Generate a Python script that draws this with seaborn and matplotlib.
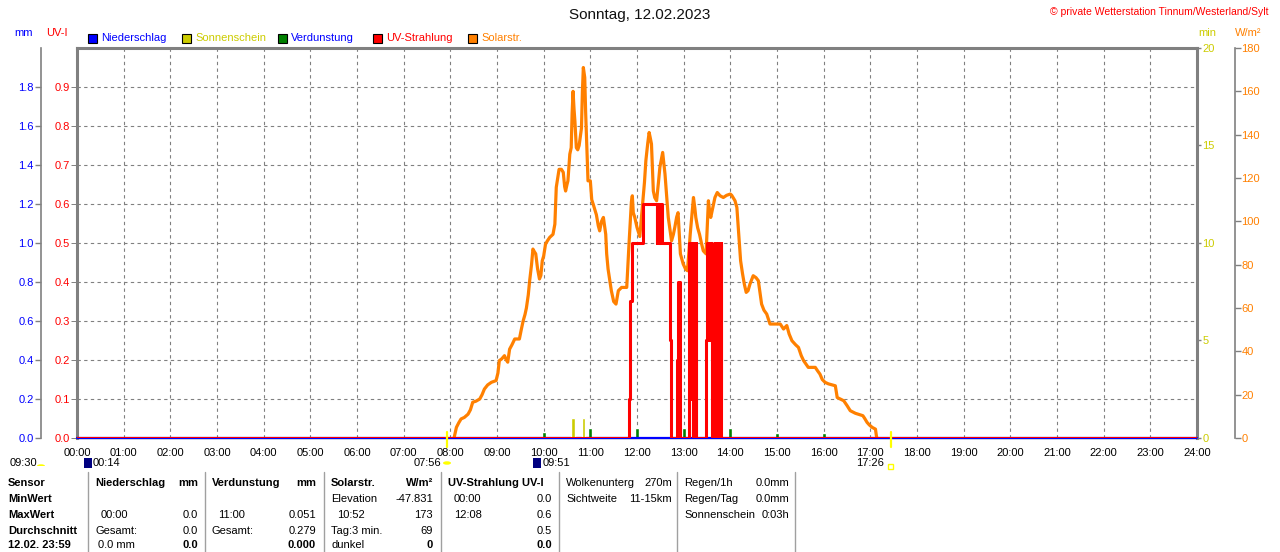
import numpy as np
import pandas as pd
import matplotlib
matplotlib.use('Agg')
import matplotlib.pyplot as plt
import seaborn as sns
from matplotlib.patches import Rectangle, Circle, Wedge
from matplotlib.lines import Line2D

# ---- data ----
hours = list(range(25))
hour_labels = ['%02d:00' % h for h in hours]

# Solarstrahlung W/m2
sol_t = [8.08, 8.10, 8.13, 8.18, 8.23, 8.30, 8.38, 8.43, 8.48, 8.55, 8.63, 8.68, 8.73, 8.80, 8.88, 8.98,
         9.02, 9.05, 9.10, 9.16, 9.20, 9.23, 9.27, 9.32, 9.38, 9.48, 9.52, 9.56, 9.60, 9.63, 9.67, 9.70,
         9.74, 9.77, 9.80, 9.83, 9.87, 9.91, 9.94, 9.97, 10.00, 10.04, 10.08, 10.13, 10.20, 10.24, 10.27,
         10.30, 10.33, 10.38, 10.42, 10.45, 10.47, 10.50, 10.52, 10.56, 10.59, 10.61, 10.63, 10.65, 10.67,
         10.70, 10.73, 10.76, 10.81, 10.83, 10.85, 10.87, 10.88, 10.90, 10.92, 10.95, 11.00, 11.03, 11.06,
         11.13, 11.17, 11.20, 11.24, 11.28, 11.33, 11.35, 11.38, 11.45, 11.50, 11.55, 11.60, 11.67, 11.78,
         11.83, 11.88, 11.90, 11.92, 11.95, 12.00, 12.06, 12.12, 12.16, 12.19, 12.23, 12.26, 12.28, 12.31,
         12.35, 12.38, 12.42, 12.46, 12.49, 12.55, 12.60, 12.64, 12.67, 12.74, 12.78, 12.81, 12.85, 12.88,
         12.93, 12.99, 13.04, 13.08, 13.11, 13.14, 13.18, 13.21, 13.24, 13.26, 13.30, 13.34, 13.38, 13.42,
         13.48, 13.51, 13.53, 13.56, 13.58, 13.62, 13.67, 13.72, 13.78, 13.85, 13.92, 14.00, 14.03, 14.10,
         14.14, 14.17, 14.22, 14.26, 14.30, 14.34, 14.38, 14.42, 14.49, 14.55, 14.60, 14.67, 14.72, 14.78,
         14.85, 15.00, 15.07, 15.14, 15.21, 15.26, 15.32, 15.40, 15.46, 15.52, 15.57, 15.67, 15.82, 15.87,
         15.92, 15.97, 16.03, 16.10, 16.25, 16.29, 16.43, 16.50, 16.57, 16.68, 16.84, 16.88, 16.93, 16.98,
         17.04, 17.11, 17.13, 17.14]
sol_w = [0, 2, 4.9, 7, 8.8, 9.5, 11, 13, 16.5, 17, 18, 20, 22.6, 24.5, 25.7, 26.5,
         30, 35.7, 36.5, 38, 36, 35, 41, 43, 45.7, 45.7, 50, 54, 57, 60, 66, 72.6,
         80, 87.2, 86, 85, 78, 73.4, 75, 81.8, 84, 89.5, 91, 92.6, 94, 98.7, 115.7,
         120, 124, 124, 122.6, 116, 114, 117, 118.7, 131, 134, 150, 160, 152, 146,
         134, 133, 135, 143, 160, 171, 168, 166.4, 150, 137, 118.7, 118.7, 110, 108,
         103, 98, 95.6, 100, 101.8, 94, 85, 78, 68, 63, 61.8, 68, 69.5, 69.5,
         90, 109, 111.8, 104, 102, 97.2, 93, 108, 118, 128, 136, 141, 139, 135.7,
         114, 111, 109.5, 118, 124.9, 131.8, 121.8, 110, 101.8, 91, 94, 97.2, 102, 104,
         85, 80.3, 78, 77.2, 85, 94, 104, 111, 106, 101.8, 97, 94, 90, 86.4,
         85, 100, 109.5, 104, 101.8, 106, 111, 113.3, 111.8, 111, 112, 112.6, 112, 109.5,
         106.4, 97.2, 81.8, 76, 71, 67.2, 68, 71, 74.9, 74, 72.6, 61.8, 59, 57.2,
         52.6, 52.6, 52.6, 50.3, 51.9, 48, 44.9, 43, 41.8, 38, 35.7, 32.6, 32.6, 31,
         29.5, 27, 25.7, 25, 24.1, 18.7, 17.2, 15, 12.6, 11.4, 10.3, 9, 7.2, 6,
         4.9, 4.1, 1, 0]

# UV-Index (stepped)
uv_t = [0, 11.83, 11.86, 11.89, 12.12, 12.42, 12.43, 12.44, 12.46, 12.47, 12.49, 12.50, 12.52, 12.53,
        12.70, 12.73, 12.86, 12.87, 12.92, 12.93,
        13.12, 13.13, 13.14, 13.15, 13.16, 13.17, 13.18, 13.19, 13.20, 13.21, 13.22, 13.23, 13.24, 13.25,
        13.26, 13.27, 13.28,
        13.48, 13.51, 13.52, 13.53, 13.545, 13.555, 13.57, 13.58, 13.60, 13.63, 13.65,
        13.67, 13.68, 13.69, 13.70, 13.71, 13.72, 13.73, 13.74, 13.75, 13.76, 13.77, 13.78, 13.79, 13.80, 24]
uv_v = [0, 0.1, 0.35, 0.5, 0.6, 0.5, 0.6, 0.5, 0.6, 0.5, 0.6, 0.5, 0.6, 0.5,
        0.25, 0.0, 0.2, 0.4, 0.2, 0.0,
        0.5, 0.1, 0.5, 0.1, 0.5, 0.1, 0.5, 0.0, 0.5, 0.1, 0.5, 0.0, 0.5, 0.0,
        0.5, 0.0, 0.0,
        0.25, 0.5, 0.25, 0.5, 0.3, 0.5, 0.25, 0.5, 0.0, 0.3, 0.0,
        0.5, 0.1, 0.5, 0.1, 0.5, 0.0, 0.5, 0.1, 0.5, 0.1, 0.5, 0.1, 0.5, 0.0, 0.0]

# Sonnenschein min
sun_t = [10.63, 10.85]
sun_min = [1.05, 1.05]

# Verdunstung mm (hourly)
evap_t = [10, 11, 12, 13, 14, 15, 16]
evap_mm = [0.029, 0.051, 0.050, 0.050, 0.050, 0.024, 0.026]

# Niederschlag mm
rain_t = [0, 24]
rain_mm = [0, 0]

sunrise_t, sunset_t = 7.933, 17.433

GRAY = '#808080'
YEL = '#CCCC00'
ORA = '#FF8000'

sns.set_theme(style='white')
plt.rcParams['font.family'] = ['Liberation Sans', 'DejaVu Sans']
plt.rcParams['font.size'] = 8

W, H = 1280, 552
fig = plt.figure(figsize=(12.8, 5.52), dpi=100)
fig.patch.set_facecolor('white')


def fx(x):
    return x / W


def fy(y):
    return 1 - y / H


ax = fig.add_axes([fx(77), fy(438), 1120 / W, 390 / H])
ax.set_facecolor('white')
ax.set_xlim(0, 24)
ax.set_ylim(0, 1)
ax.set_xticks(hours)
ax.set_xticklabels(hour_labels)
ax.set_yticks(np.arange(0, 1.0, 0.1))
ax.set_yticklabels(['%.1f' % v for v in np.arange(0, 1.0, 0.1)])
ax.tick_params(axis='x', length=0, pad=7, labelsize=8, labelcolor='black')
ax.tick_params(axis='y', left=True, right=False, length=4, width=0.7, color=GRAY,
               labelcolor='red', pad=1, labelsize=8)
ax.grid(True, linestyle=(0, (3, 3)), color=GRAY, linewidth=0.8)
for s in ['top', 'left', 'right']:
    ax.spines[s].set_color(GRAY)
    ax.spines[s].set_linewidth(2.2)
ax.spines['bottom'].set_color(GRAY)
ax.spines['bottom'].set_linewidth(1)

# mm axis (far left)
ax_mm = ax.twinx()
ax_mm.set_ylim(0, 2.0)
for s in ['top', 'bottom', 'right']:
    ax_mm.spines[s].set_visible(False)
ax_mm.spines['left'].set_visible(True)
ax_mm.spines['left'].set_position(('outward', 26))
ax_mm.spines['left'].set_color(GRAY)
ax_mm.spines['left'].set_linewidth(1.2)
ax_mm.yaxis.set_ticks_position('left')
ax_mm.set_yticks(np.arange(0, 1.9, 0.2))
ax_mm.set_yticklabels(['%.1f' % v for v in np.arange(0, 1.9, 0.2)])
ax_mm.tick_params(axis='y', length=4, width=1, color=GRAY, labelcolor='blue', pad=1, labelsize=8)
ax_mm.bar(evap_t, evap_mm, width=0.08, color='#008000', zorder=3)
sns.lineplot(x=rain_t, y=rain_mm, ax=ax_mm, color='blue', linewidth=1.6, clip_on=False, zorder=4)

# min axis (sunshine)
ax_min = ax.twinx()
ax_min.set_ylim(0, 20)
for s in ax_min.spines.values():
    s.set_visible(False)
ax_min.set_yticks([0, 5, 10, 15, 20])
ax_min.tick_params(axis='y', length=3, width=1, color=GRAY, labelcolor=YEL, pad=1, labelsize=8)
ax_min.bar(sun_t, sun_min, width=0.07, color=YEL, zorder=3)

# W/m2 axis
ax_w = ax.twinx()
ax_w.set_ylim(0, 180)
for s in ['top', 'bottom', 'left']:
    ax_w.spines[s].set_visible(False)
ax_w.spines['right'].set_position(('outward', 27))
ax_w.spines['right'].set_color(GRAY)
ax_w.spines['right'].set_linewidth(1.2)
ax_w.set_yticks(np.arange(0, 181, 20))
ax_w.tick_params(axis='y', length=4, width=1, color=GRAY, labelcolor=ORA, pad=1, labelsize=8)
sns.lineplot(x=sol_t, y=sol_w, ax=ax_w, color=ORA, linewidth=2.3, estimator=None, sort=False)

# UV layer on top
ax_uv = ax.twinx()
ax_uv.set_ylim(0, 1)
ax_uv.set_yticks([])
for s in ax_uv.spines.values():
    s.set_visible(False)
sns.lineplot(x=uv_t, y=uv_v, ax=ax_uv, color='red', linewidth=2.2, drawstyle='steps-post',
             estimator=None, sort=False)
for t in [sunrise_t, sunset_t]:
    ax_uv.plot([t, t], [-0.024, 0.016], color='#FFFF00', linewidth=1.6, clip_on=False, zorder=6)
ax_uv.set_xlim(0, 24)

# ---- header texts ----
fig.text(0.5, fy(15), 'Sonntag, 12.02.2023', ha='center', va='center', fontsize=11, color='#111111')
fig.text(fx(1268), fy(12), '\u00a9 private Wetterstation Tinnum/Westerland/Sylt', ha='right', va='center',
         fontsize=7.5, color='red')
fig.text(fx(14), fy(33), 'mm', ha='left', va='center', color='blue', fontsize=8)
fig.text(fx(46), fy(33), 'UV-I', ha='left', va='center', color='red', fontsize=8)
fig.text(fx(1198), fy(33), 'min', ha='left', va='center', color=YEL, fontsize=8)
fig.text(fx(1235), fy(33), 'W/m\u00b2', ha='left', va='center', color=ORA, fontsize=8)

leg_x = [88, 182, 278, 373, 468]
leg_names = ['Niederschlag', 'Sonnenschein', 'Verdunstung', 'UV-Strahlung', 'Solarstr.']
leg_box = ['#0000FF', YEL, '#008000', '#FF0000', ORA]
leg_txt = ['#0000FF', YEL, '#0000FF', '#FF0000', ORA]
for x, n, bc, tc in zip(leg_x, leg_names, leg_box, leg_txt):
    fig.add_artist(Rectangle((fx(x), fy(43)), 9 / W, 9 / H, facecolor=bc, edgecolor='black',
                             linewidth=0.8, transform=fig.transFigure))
    fig.text(fx(x + 13), fy(38), n, ha='left', va='center', color=tc, fontsize=8)

# ---- sun / moon times ----
ty = 463
fig.text(fx(10), fy(ty), '09:30', ha='left', va='center', fontsize=8, color='black')
fig.add_artist(Wedge((fx(41), fy(466)), 4 / W, 0, 180, facecolor='#FFFF00', edgecolor='none',
                     transform=fig.transFigure))
fig.add_artist(Rectangle((fx(84), fy(468)), 8 / W, 10 / H, facecolor='#000080', edgecolor='none',
                         transform=fig.transFigure))
fig.text(fx(93), fy(ty), '00:14', ha='left', va='center', fontsize=8, color='black')
fig.text(fx(441), fy(ty), '07:56', ha='right', va='center', fontsize=8, color='black')
fig.add_artist(Circle((fx(447), fy(463)), 4 / W, facecolor='#FFFF00', edgecolor='none',
                      transform=fig.transFigure))
fig.add_artist(Rectangle((fx(533), fy(468)), 8 / W, 10 / H, facecolor='#000080', edgecolor='none',
                         transform=fig.transFigure))
fig.text(fx(543), fy(ty), '09:51', ha='left', va='center', fontsize=8, color='black')
fig.text(fx(884), fy(ty), '17:26', ha='right', va='center', fontsize=8, color='black')
fig.add_artist(Rectangle((fx(888), fy(469)), 5 / W, 5 / H, facecolor='none', edgecolor='#FFFF00',
                         linewidth=1, transform=fig.transFigure))

# ---- table ----
seps = [88, 205, 324, 441, 559, 677, 795]
for x in seps:
    fig.add_artist(Line2D([fx(x), fx(x)], [fy(472), fy(552)], color='#A0A0A0', linewidth=1,
                          transform=fig.transFigure))

rows = [483, 499, 515, 531, 545]
row_heads = ['Sensor', 'MinWert', 'MaxWert', 'Durchschnitt', '12.02. 23:59']
for y, t in zip(rows, row_heads):
    fig.text(fx(8), fy(y), t, ha='left', va='center', fontsize=8, fontweight='bold', color='black')

# (x_left, x_right, row, left text, right text, left bold, right bold)
cells = [
    (95, 198, 0, 'Niederschlag', 'mm', True, True),
    (101, 198, 2, '00:00', '0.0', False, False),
    (95, 198, 3, 'Gesamt:', '0.0', False, False),
    (98, 198, 4, '0.0 mm', '0.0', False, True),
    (212, 316, 0, 'Verdunstung', 'mm', True, True),
    (218, 316, 2, '11:00', '0.051', False, False),
    (212, 316, 3, 'Gesamt:', '0.279', False, False),
    (212, 316, 4, '', '0.000', False, True),
    (331, 433, 0, 'Solarstr.', 'W/m\u00b2', True, True),
    (331, 433, 1, 'Elevation', '-47.831', False, False),
    (337, 433, 2, '10:52', '173', False, False),
    (331, 433, 3, 'Tag:3 min.', '69', False, False),
    (331, 433, 4, 'dunkel', '0', False, True),
    (448, 552, 0, 'UV-Strahlung UV-I', '', True, True),
    (454, 552, 1, '00:00', '0.0', False, False),
    (454, 552, 2, '12:08', '0.6', False, False),
    (454, 552, 3, '', '0.5', False, False),
    (454, 552, 4, '', '0.0', False, True),
    (566, 672, 0, 'Wolkenunterg', '270m', False, False),
    (566, 672, 1, 'Sichtweite', '11-15km', False, False),
    (684, 789, 0, 'Regen/1h', '0.0mm', False, False),
    (684, 789, 1, 'Regen/Tag', '0.0mm', False, False),
    (684, 789, 2, 'Sonnenschein', '0:03h', False, False),
]
for xl, xr, r, lt, rt, lb, rb in cells:
    y = fy(rows[r])
    if lt:
        fig.text(fx(xl), y, lt, ha='left', va='center', fontsize=8,
                 fontweight='bold' if lb else 'normal', color='black')
    if rt:
        fig.text(fx(xr), y, rt, ha='right', va='center', fontsize=8,
                 fontweight='bold' if rb else 'normal', color='black')

fig.savefig('out.png', dpi=100, facecolor='white')
